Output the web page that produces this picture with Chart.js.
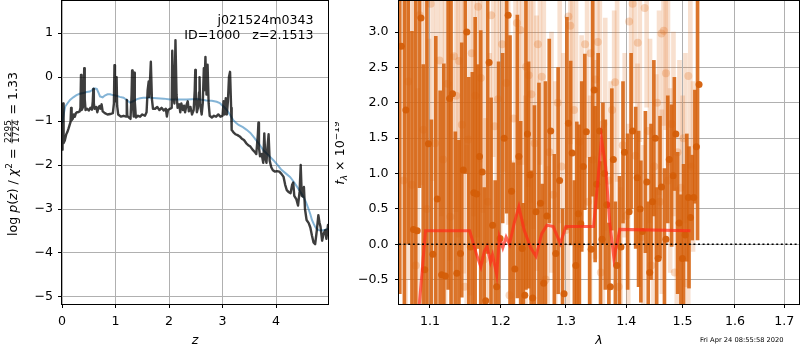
<!DOCTYPE html>
<html><head><meta charset="utf-8">
<script src="https://cdn.jsdelivr.net/npm/chart.js@4.4.1/dist/chart.umd.min.js"></script>
<style>
html,body{margin:0;padding:0;background:#fff;width:800px;height:350px;overflow:hidden;}
#cL{position:absolute;left:0;top:0;}
#cR{position:absolute;left:335px;top:0;}
</style></head><body>
<canvas id="cL" width="335" height="350"></canvas>
<canvas id="cR" width="465" height="350"></canvas>
<script>
// ---------- LEFT PANEL DATA: log p(z) ----------
const zBlack = [
0,0.01,0.02,0.03,0.05,0.08,0.10,0.12,0.14,0.16,
0.17,0.18,0.20,0.22,0.24,0.26,0.28,0.30,0.33,0.345,
0.355,0.365,0.38,0.40,0.415,0.425,0.44,0.47,0.50,0.53,
0.56,0.575,0.585,0.595,0.61,0.64,0.66,0.68,0.70,0.72,
0.74,0.76,0.80,0.85,0.90,0.95,0.97,0.98,0.99,1.00,
1.02,1.03,1.05,1.10,1.15,1.20,1.21,1.22,1.25,1.28,
1.30,1.31,1.32,1.34,1.35,1.36,1.38,1.42,1.46,1.50,
1.55,1.58,1.60,1.62,1.63,1.66,1.68,1.70,1.74,1.78,
1.82,1.86,1.90,1.94,1.96,1.98,2.02,2.05,2.06,2.08,
2.10,2.12,2.14,2.16,2.19,2.21,2.23,2.26,2.28,2.30,
2.33,2.35,2.37,2.40,2.43,2.46,2.48,2.49,2.50,2.52,
2.54,2.56,2.57,2.58,2.61,2.63,2.65,2.66,2.68,2.70,
2.72,2.74,2.76,2.80,2.84,2.88,2.92,2.96,3.00,3.02,
3.04,3.06,3.08,3.10,3.12,3.14,3.16,3.17,3.20,3.24,
3.28,3.32,3.36,3.40,3.44,3.48,3.52,3.56,3.60,3.63,
3.66,3.67,3.68,3.70,3.73,3.76,3.78,3.80,3.82,3.84,
3.86,3.88,3.91,3.94,3.98,4.02,4.06,4.10,4.14,4.17,
4.20,4.24,4.27,4.30,4.32,4.34,4.38,4.41,4.44,4.46,
4.48,4.50,4.52,4.54,4.57,4.61,4.64,4.67,4.70,4.73,
4.76,4.79,4.81,4.83,4.86,4.89,4.92,4.94,4.97];
const logpBlack = [
-1.65,-1.45,-0.60,-1.50,-1.45,-1.30,-1.25,-1.18,-1.10,-1.02,
-0.70,-0.98,-0.95,-0.85,-0.90,-0.82,-0.80,-0.80,-0.78,-0.70,
0.05,-0.75,-0.72,-0.65,0.20,-0.50,-0.75,-0.72,-0.76,-0.70,
-0.74,-0.55,-0.27,-0.60,-0.72,-0.68,-0.80,-0.70,-0.66,-0.72,
-0.62,-0.78,-0.82,-0.85,-0.84,-0.82,-0.60,0.27,-0.20,-0.55,
0.00,-0.65,-0.85,-0.90,-0.88,-0.90,-0.52,-0.88,-0.92,-0.95,
-0.40,0.15,-0.50,-0.90,0.10,-0.55,-0.92,-0.88,-0.90,-0.85,
-0.88,-0.80,-0.30,-0.10,-0.45,0.35,-0.50,-0.72,-0.72,-0.68,
-0.75,-0.70,-0.76,-0.72,-0.90,-0.75,-0.72,-0.70,0.60,-0.40,
-0.60,0.84,-0.40,-0.70,-0.62,-0.80,-0.60,-0.75,-0.65,-0.80,
-0.62,-0.55,-0.78,-0.68,-0.85,-0.75,-0.30,0.16,-0.45,-0.80,
-0.70,-0.35,0.00,-0.60,-0.85,-0.60,0.20,-0.30,0.46,-0.40,
0.28,-0.60,-0.88,-0.92,-0.88,-0.90,-0.85,-0.90,-0.88,-0.55,
-0.85,-0.48,-0.85,-0.55,0.00,0.12,-0.70,-1.20,-1.25,-1.30,
-1.32,-1.35,-1.40,-1.43,-1.50,-1.55,-1.58,-1.65,-1.70,-1.75,
-1.30,-1.04,-1.60,-1.80,-1.75,-1.95,-1.28,-1.85,-1.95,-1.60,
-1.30,-1.90,-2.05,-2.12,-2.15,-2.14,-2.15,-2.20,-2.27,-2.45,
-2.57,-2.62,-2.64,-2.45,-2.40,-2.70,-2.78,-2.92,-2.60,-2.00,
-2.70,-2.72,-2.50,-3.00,-3.25,-3.32,-3.42,-3.60,-3.76,-3.80,
-3.50,-3.14,-3.30,-3.40,-3.72,-3.55,-3.48,-3.68,-3.36];
const zBlue = [
0,0.03,0.06,0.10,0.15,0.21,0.27,0.33,0.40,0.46,
0.52,0.56,0.59,0.62,0.65,0.68,0.71,0.76,0.80,0.85,
0.90,0.95,1.00,1.08,1.15,1.21,1.27,1.33,1.40,1.46,
1.52,1.65,1.77,1.90,2.02,2.15,2.33,2.52,2.70,2.80,
2.89,2.95,2.98,3.03,3.08,3.14,3.20,3.25,3.30,3.38,
3.45,3.52,3.58,3.67,3.76,3.86,3.95,4.03,4.10,4.18,
4.26,4.33,4.39,4.45,4.51,4.56,4.60,4.64,4.67,4.70,
4.73,4.76,4.79,4.85,4.92,4.97];
const logpBlue = [
-1.05,-0.85,-0.67,-0.60,-0.52,-0.46,-0.41,-0.38,-0.36,-0.34,
-0.33,-0.30,-0.26,-0.26,-0.27,-0.35,-0.44,-0.46,-0.42,-0.39,
-0.39,-0.41,-0.42,-0.45,-0.47,-0.52,-0.58,-0.55,-0.50,-0.48,
-0.47,-0.47,-0.48,-0.49,-0.51,-0.51,-0.51,-0.50,-0.53,-0.54,
-0.56,-0.59,-0.63,-0.68,-0.75,-0.86,-0.98,-1.04,-1.09,-1.14,
-1.20,-1.27,-1.36,-1.50,-1.66,-1.78,-1.89,-2.00,-2.11,-2.19,
-2.27,-2.38,-2.49,-2.60,-2.72,-2.85,-2.98,-3.12,-3.25,-3.33,
-3.40,-3.45,-3.48,-3.49,-3.47,-3.45];
const zTicks = [0,1,2,3,4];
const logpTicks = [-5,-4,-3,-2,-1,0,1];

// ---------- RIGHT PANEL DATA: spectrum ----------
const lamDark = [
1.062,1.068,1.073,1.078,1.083,1.088,1.093,1.098,1.104,1.110,
1.116,1.121,1.127,1.131,1.137,1.142,1.146,1.151,1.156,1.161,
1.165,1.169,1.173,1.178,1.183,1.188,1.194,1.199,1.205,1.211,
1.216,1.221,1.227,1.232,1.236,1.240,1.244,1.248,1.253,1.260,
1.265,1.270,1.276,1.284,1.290,1.297,1.304,1.310,1.316,1.320,
1.324,1.328,1.333,1.341,1.346,1.350,1.355,1.359,1.363,1.367,
1.373,1.378,1.384,1.391,1.397,1.405,1.411,1.419,1.424,1.428,
1.436,1.441,1.446,1.451,1.456,1.462,1.470,1.476,1.483,1.488,
1.494,1.500,1.505,1.511,1.515,1.521,1.526,1.531];
const fluxDark = [
2.8,1.90,3.6,0.21,0.19,3.2,-0.36,1.42,-0.14,0.64,
-0.43,-0.45,2.06,2.13,-0.41,-0.13,1.05,3.0,-0.04,0.73,
0.71,1.24,1.02,-0.8,2.57,0.27,-0.6,0.08,1.5,3.24,
0.75,-0.35,1.24,-0.06,-0.72,1.56,0.98,-0.76,0.46,0.58,
-0.55,0.40,1.6,-0.13,0.9,-0.7,1.71,1.29,-0.3,0.43,
0.29,1.10,1.59,-0.07,2.18,0.85,1.6,0.07,1.00,0.56,
-0.6,1.2,-0.3,-0.04,1.3,0.46,1.6,0.94,0.5,0.18,
0.88,-0.4,0.6,1.5,-0.2,0.81,0.07,1.2,0.97,1.56,
0.3,-0.2,0.13,0.66,0.38,0.66,1.38,2.26];
const errDark = [
3.5,3.0,3.6,2.8,3.5,2.4,2.9,2.8,1.9,2.3,
2.6,3.0,2.7,3.5,2.0,1.6,1.8,2.0,2.4,1.7,
2.5,1.3,2.0,1.6,2.7,1.8,1.5,2.5,1.2,2.8,
2.2,1.5,2.0,1.8,1.3,2.2,1.6,1.8,1.5,1.7,
1.4,1.9,1.3,1.4,1.6,1.2,1.5,1.3,1.2,1.3,
1.4,1.2,1.1,1.3,1.5,1.1,1.1,1.1,1.0,1.2,
0.9,1.0,0.9,1.0,1.0,1.1,1.1,1.0,1.1,1.0,
1.0,1.0,1.1,1.1,1.0,1.0,1.0,0.9,1.0,0.8,
1.0,0.9,1.0,0.9,1.0,0.6,0.8,2.2];
const lamLight = [
1.065,1.071,1.076,1.081,1.086,1.091,1.096,1.101,1.107,1.113,
1.118,1.124,1.128,1.133,1.136,1.140,1.144,1.148,1.153,1.158,
1.163,1.167,1.171,1.175,1.181,1.186,1.191,1.196,1.202,1.208,
1.213,1.219,1.224,1.229,1.234,1.238,1.242,1.246,1.251,1.256,
1.262,1.268,1.274,1.280,1.287,1.293,1.300,1.304,1.307,1.313,
1.318,1.322,1.331,1.336,1.340,1.344,1.348,1.352,1.357,1.361,
1.370,1.376,1.381,1.387,1.394,1.400,1.405,1.411,1.416,1.420,
1.426,1.432,1.438,1.444,1.449,1.454,1.459,1.462,1.466,1.470,
1.474,1.480,1.486,1.491,1.497,1.502,1.507,1.511,1.516];
const fluxLight = [
0.9,2.3,0.84,-0.3,3.24,1.62,0.5,3.4,1.43,2.6,
1.2,2.27,0.39,2.66,2.1,2.59,1.69,-0.6,1.48,2.70,
2.1,3.36,2.35,-0.22,0.6,3.24,1.67,2.05,2.83,2.28,
-0.72,1.78,3.13,3.03,0.3,2.51,2.39,2.12,1.43,2.83,
2.37,-0.5,1.3,0.7,2.0,1.1,0.2,3.22,3.09,1.9,
0.0,1.45,2.83,0.6,2.7,1.2,2.33,2.86,-0.4,1.7,
0.9,1.9,2.29,-0.6,1.4,0.4,3.15,3.40,1.25,2.85,
0.1,3.34,1.6,-0.3,1.1,2.0,0.6,2.98,3.02,2.42,
0.9,1.7,-0.4,1.3,0.8,1.5,-0.55,2.38,1.1];
const errLight = [
3.0,2.8,2.6,2.5,2.4,2.7,2.4,2.5,2.3,2.2,
2.4,2.5,2.3,2.2,2.0,2.4,2.1,2.0,2.2,2.3,
2.0,2.2,1.9,2.0,2.1,2.0,1.9,2.1,1.8,2.0,
1.9,1.8,2.0,1.9,1.8,1.7,1.8,1.9,1.8,1.7,
1.8,1.6,1.7,1.6,1.7,1.6,1.5,1.8,1.6,1.6,
1.5,1.5,1.6,1.5,1.5,1.4,1.5,1.6,1.4,1.5,
1.4,1.4,1.4,1.4,1.3,1.3,1.5,1.4,1.3,1.4,
1.3,1.4,1.3,1.3,1.3,1.3,1.3,1.3,1.4,1.3,
1.3,1.3,1.2,1.3,1.3,1.2,1.2,1.3,1.2];
const lamModel = [1.083,1.094,1.155,1.165,1.171,1.176,1.180,1.185,1.188,1.194,
1.198,1.203,1.208,1.213,1.220,1.227,1.235,1.245,1.253,1.262,
1.270,1.280,1.291,1.300,1.345,1.352,1.358,1.365,1.372,1.379,1.389,1.515];
const fluxModel = [-1.2,0.19,0.19,-0.15,-0.32,-0.1,-0.03,-0.25,-0.15,-0.43,
0.1,-0.05,0.1,0.0,0.3,0.53,0.2,-0.05,-0.17,0.15,
0.27,0.25,0.01,0.25,0.25,0.9,1.5,1.1,0.3,-0.2,0.21,0.19];
const lamTicks = [1.1,1.2,1.3,1.4,1.5,1.6,1.7];
const fluxTicks = [-0.5,0,0.5,1.0,1.5,2.0,2.5,3.0];
const lamRange = [1.059, 1.731];
const fluxRange = [-0.845, 3.44];

// ---------- helpers ----------
const FONT = 'DejaVu Sans';
const TICKFONT = {family: FONT, size: 12.6};
const minus = s => String(s).replace('-', '\u2212');
const pts = (xs, ys) => xs.map((x, i) => ({x, y: ys[i]}));
const bars = (xs, ys, es) => xs.map((x, i) => ({x, y: [ys[i] - es[i], ys[i] + es[i]]}));

function richRot(ctx, bx, cy, parts) {
  ctx.save();
  ctx.translate(bx, cy);
  ctx.rotate(-Math.PI / 2);
  ctx.fillStyle = '#000';
  ctx.textBaseline = 'alphabetic';
  ctx.textAlign = 'left';
  const widths = parts.map(p => {
    if (p.frac) { ctx.font = p.font; return Math.max(ctx.measureText(p.num).width, ctx.measureText(p.den).width) + 3; }
    ctx.font = p.font; return ctx.measureText(p.t).width;
  });
  const total = widths.reduce((a, b) => a + b, 0);
  let x = -total / 2;
  parts.forEach((p, i) => {
    ctx.font = p.font;
    if (p.frac) {
      const w = widths[i];
      ctx.textAlign = 'center';
      ctx.fillText(p.num, x + w / 2, -6.4);
      ctx.fillText(p.den, x + w / 2, 2.0);
      ctx.textAlign = 'left';
      ctx.fillRect(x + 1, -5.4, w - 2, 0.8);
    } else {
      ctx.fillText(p.t, x, p.dy || 0);
    }
    x += widths[i];
  });
  ctx.restore();
}
function frame(chart) {
  const {ctx, chartArea: a} = chart;
  ctx.save();
  ctx.strokeStyle = '#000';
  ctx.lineWidth = 1;
  ctx.strokeRect(Math.round(a.left) - 0.5, Math.round(a.top) - 0.5, Math.round(a.right - a.left) + 1, Math.round(a.bottom - a.top) + 1);
  ctx.restore();
}
const N = '12.6px "' + FONT + '"', I = 'italic 12.6px "' + FONT + '"', S = '9px "' + FONT + '"', SI = 'italic 9px "' + FONT + '"';

const leftDeco = {
  id: 'leftDeco',
  afterDraw(chart) {
    frame(chart);
    const ctx = chart.ctx, a = chart.chartArea;
    ctx.save();
    ctx.fillStyle = '#000';
    ctx.font = N;
    ctx.textAlign = 'right';
    ctx.fillText('j021524m0343', 313.5, 23.5);
    ctx.fillText('ID=1000   z=2.1513', 313.5, 39);
    ctx.textAlign = 'center';
    ctx.font = I;
    ctx.fillText('z', (a.left + a.right) / 2, 344);
    ctx.restore();
    richRot(ctx, 17, 154, [
      {t: 'log ', font: N}, {t: 'p', font: I}, {t: '(', font: N}, {t: 'z', font: I}, {t: ') / ', font: N},
      {t: '\u03c7', font: I}, {t: '2', font: S, dy: -5}, {t: ' = ', font: N},
      {frac: true, num: '2295', den: '1724', font: S}, {t: ' = 1.33', font: N}
    ]);
  }
};
const rightDeco = {
  id: 'rightDeco',
  afterDraw(chart) {
    frame(chart);
    const ctx = chart.ctx, a = chart.chartArea;
    ctx.save();
    ctx.fillStyle = '#000';
    ctx.textAlign = 'center';
    ctx.font = I;
    ctx.fillText('\u03bb', (a.left + a.right) / 2, 344);
    ctx.textAlign = 'left';
    ctx.font = '6.7px "' + FONT + '"';
    ctx.fillText('Fri Apr 24 08:55:58 2020', 365, 342);
    ctx.restore();
    richRot(ctx, 9, 153, [
      {t: 'f', font: I}, {t: '\u03bb', font: SI, dy: 2.5}, {t: ' \u00d7 10', font: N}, {t: '\u221219', font: S, dy: -5.5}
    ]);
  }
};

const gridOpt = {color: '#b0b0b0', lineWidth: 1, tickColor: '#000', tickLength: 4, drawTicks: true};

// ---------- LEFT CHART ----------
new Chart(document.getElementById('cL'), {
  type: 'scatter',
  data: {datasets: [
    {type: 'line', data: pts(zBlack, logpBlack), borderColor: 'rgba(0,0,0,0.76)', borderWidth: 2.4, borderJoinStyle: 'round', borderCapStyle: 'round', pointRadius: 0, tension: 0, order: 0},
    {type: 'line', data: pts(zBlue, logpBlue), borderColor: 'rgba(31,119,180,0.55)', borderWidth: 2, pointRadius: 0, tension: 0, order: 1}
  ]},
  options: {
    responsive: false, animation: false, events: [],
    layout: {autoPadding: false, padding: {left: 0, top: 1, right: 7, bottom: 0}},
    plugins: {legend: {display: false}, tooltip: {enabled: false}},
    scales: {
      x: {type: 'linear', min: 0, max: 4.97, border: {display: false}, grid: gridOpt,
        afterBuildTicks: s => { s.ticks = zTicks.map(v => ({value: v})); },
        ticks: {font: TICKFONT, color: '#000', padding: 6, maxRotation: 0, autoSkip: false, callback: v => minus(v)},
        afterFit: s => { s.height = 46; s.paddingLeft = 0; s.paddingRight = 0; }},
      y: {type: 'linear', min: -5.16, max: 1.73, border: {display: false}, grid: gridOpt,
        afterBuildTicks: s => { s.ticks = logpTicks.map(v => ({value: v})); },
        ticks: {font: TICKFONT, color: '#000', padding: 5, autoSkip: false, callback: v => minus(v)},
        afterFit: s => { s.width = 62; s.paddingTop = 0; s.paddingBottom = 0; }}
    }
  },
  plugins: [leftDeco]
});

// ---------- RIGHT CHART ----------
const logAxis = (show) => ({
  type: 'logarithmic', min: lamRange[0], max: lamRange[1], offset: false, display: show, z: 1,
  border: {display: false}, grid: Object.assign({offset: false}, gridOpt),
  afterBuildTicks: s => { s.ticks = lamTicks.map(v => ({value: v})); },
  ticks: {font: TICKFONT, color: '#000', padding: 6, maxRotation: 0, autoSkip: false, callback: v => Number(v).toFixed(1)},
  afterFit: s => { s.height = show ? 46 : 0; s.paddingLeft = 0; s.paddingRight = 0; }
});
new Chart(document.getElementById('cR'), {
  type: 'scatter',
  data: {datasets: [
    {type: 'line', data: [{x: lamRange[0], y: 0}, {x: lamRange[1], y: 0}], borderColor: '#000', borderWidth: 1.5, borderDash: [2, 2.6], pointRadius: 0, order: 0},
    {type: 'line', data: pts(lamModel, fluxModel), borderColor: 'rgba(255,45,25,0.72)', borderWidth: 3, pointRadius: 0, tension: 0, order: 1},
    {type: 'scatter', data: pts(lamDark, fluxDark), backgroundColor: 'rgba(212,94,8,0.95)', borderWidth: 0, pointRadius: 3.5, order: 2},
    {type: 'bar', xAxisID: 'x', data: bars(lamDark, fluxDark, errDark), backgroundColor: 'rgba(214,98,14,0.88)', borderWidth: 0, barThickness: 3, order: 3},
    {type: 'scatter', data: pts(lamLight, fluxLight), backgroundColor: 'rgba(225,115,35,0.28)', borderWidth: 0, pointRadius: 4, order: 4},
    {type: 'bar', xAxisID: 'x2', data: bars(lamLight, fluxLight, errLight), backgroundColor: 'rgba(225,115,35,0.22)', borderWidth: 0, barThickness: 4, order: 5}
  ]},
  options: {
    responsive: false, animation: false, events: [],
    layout: {autoPadding: false, padding: {left: 0, top: 1, right: 1, bottom: 0}},
    plugins: {legend: {display: false}, tooltip: {enabled: false}},
    scales: {
      x: logAxis(true),
      x2: Object.assign(logAxis(false), {grid: {display: false}}),
      y: {type: 'linear', min: fluxRange[0], max: fluxRange[1], border: {display: false}, grid: gridOpt, z: 1,
        afterBuildTicks: s => { s.ticks = fluxTicks.map(v => ({value: v})); },
        ticks: {font: TICKFONT, color: '#000', padding: 6.5, autoSkip: false, callback: v => minus(Number(v).toFixed(1))},
        afterFit: s => { s.width = 64; s.paddingTop = 0; s.paddingBottom = 0; }}
    }
  },
  plugins: [rightDeco]
});
</script></body></html>
